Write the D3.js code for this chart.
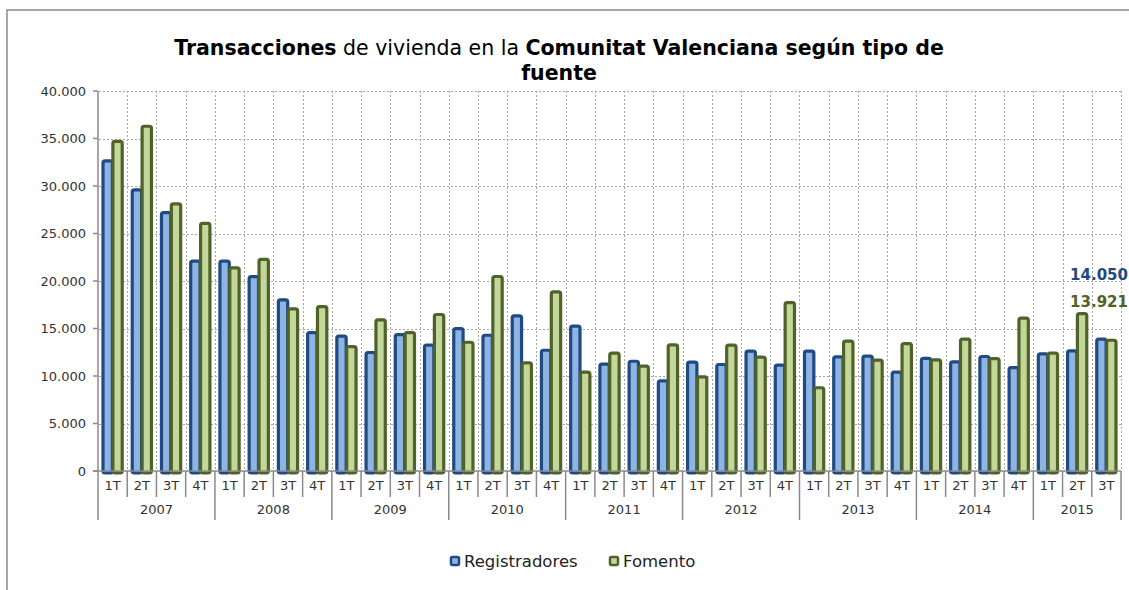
<!DOCTYPE html>
<html>
<head>
<meta charset="utf-8">
<script src="https://cdn.jsdelivr.net/npm/d3@7"></script>
<style>
  html, body { margin: 0; padding: 0; background: #fff; }
  svg { display: block; font-family: "DejaVu Sans", sans-serif; }
</style>
</head>
<body>
<div id="chart"></div>
<script>
// Transacciones de vivienda, Comunitat Valenciana: Registradores vs Fomento, por trimestre.

const years = ['2007', '2008', '2009', '2010', '2011', '2012', '2013', '2014', '2015'];
const quarters = ['1T', '2T', '3T', '4T'];
const yTicks = [0, 5000, 10000, 15000, 20000, 25000, 30000, 35000, 40000];

const registradores = [
  32800, 29750, 27350, 22250,
  22250, 20620, 18180, 14730,
  14350, 12630, 14520, 13400,
  15150, 14450, 16480, 12870,
  15400, 11400, 11710, 9650,
  11620, 11370, 12780, 11300,
  12780, 12170, 12240, 10560,
  12020, 11640, 12210, 11050,
  12490, 12800, 14050
];
const fomento = [
  34850, 36450, 28280, 26230,
  21540, 22440, 17220, 17470,
  13260, 16060, 14730, 16630,
  13710, 20630, 11540, 19010,
  10560, 12560, 11190, 13430,
  10060, 13400, 12140, 17890,
  8920, 13820, 11820, 13570,
  11850, 14030, 11990, 16240,
  12560, 16730, 13921
];

const seriesNames = ['Registradores', 'Fomento'];
const seriesValues = [registradores, fomento];
const stroke = ['#1f4a82', '#4f6228'];
const fill = ['#8db4e2', '#c4d79b'];

// categories: year + quarter
const cats = [];
years.forEach((yr) => quarters.forEach((q) => {
  if (cats.length < registradores.length) cats.push({ year: yr, q: q, key: yr + '-' + q });
}));

const W = 1129, H = 590;
const fmt = (v) => d3.format(',')(v).replace(/,/g, '.');

const svg = d3.select('#chart').append('svg').attr('width', W).attr('height', H);

// outer frame
svg.append('rect').attr('x', 7).attr('y', 10).attr('width', 1140).attr('height', 600)
  .attr('fill', 'none').attr('stroke', '#8a8a8a').attr('stroke-width', 1.5);

const x = d3.scaleBand().domain(cats.map((c) => c.key)).range([98, 1121]).padding(0);
const y = d3.scaleLinear().domain([0, 40000]).range([471, 91]);
const w = x.bandwidth();
const xs = d3.scaleBand().domain(seriesNames).range([0.12 * w, 0.88 * w]).paddingInner(-0.25);

// title
const title = svg.append('text').attr('text-anchor', 'middle').attr('font-size', 20.5).attr('fill', '#000');
const l1 = title.append('tspan').attr('x', 559).attr('y', 55);
l1.append('tspan').attr('font-weight', 'bold').text('Transacciones');
l1.append('tspan').text(' de vivienda en la ');
l1.append('tspan').attr('font-weight', 'bold').text('Comunitat Valenciana según tipo de');
title.append('tspan').attr('x', 559).attr('y', 80).attr('font-weight', 'bold').text('fuente');

// gridlines
const grid = svg.append('g').attr('stroke', '#a6a6a6').attr('stroke-width', 1).attr('stroke-dasharray', '2,2');
grid.selectAll('.hg').data(yTicks.filter((t) => t > 0)).enter().append('line')
  .attr('x1', 99).attr('x2', 1121)
  .attr('y1', (d) => Math.round(y(d)) + 0.5).attr('y2', (d) => Math.round(y(d)) + 0.5);
grid.selectAll('.vg').data(cats).enter().append('line')
  .attr('x1', (d) => Math.round(x(d.key) + w) + 0.5).attr('x2', (d) => Math.round(x(d.key) + w) + 0.5)
  .attr('y1', y(40000)).attr('y2', y(0));

// bars
seriesNames.forEach((name, si) => {
  svg.append('g').selectAll('rect').data(seriesValues[si]).enter().append('rect')
    .attr('x', (d, i) => x(cats[i].key) + xs(name) + 1.5)
    .attr('width', xs.bandwidth() - 3)
    .attr('y', (d) => y(d) + 1.5)
    .attr('height', (d) => y(0) - y(d) + 0.5)
    .attr('rx', 2)
    .attr('fill', fill[si]).attr('stroke', stroke[si]).attr('stroke-width', 3.2);
});

// axes
const axisCol = '#8a8a8a';
const ax = svg.append('g').attr('stroke', axisCol).attr('stroke-width', 1.5);
ax.append('line').attr('x1', 98).attr('x2', 98).attr('y1', y(40000)).attr('y2', y(0));
ax.append('line').attr('x1', 93).attr('x2', 1121).attr('y1', y(0)).attr('y2', y(0));
ax.selectAll('.yt').data(yTicks).enter().append('line')
  .attr('x1', 93).attr('x2', 98).attr('y1', (d) => y(d)).attr('y2', (d) => y(d));

// quarter separators and year separators
const bounds = [98].concat(cats.map((c) => x(c.key) + w));
ax.selectAll('.qs').data(bounds).enter().append('line')
  .attr('x1', (d) => d).attr('x2', (d) => d)
  .attr('y1', y(0)).attr('y2', (d, i) => (i % 4 === 0 || i === bounds.length - 1) ? 520 : 497);

// y tick labels
svg.append('g').selectAll('text').data(yTicks).enter().append('text')
  .attr('x', 86).attr('y', (d) => y(d)).attr('dy', '0.35em')
  .attr('text-anchor', 'end').attr('font-size', 13).attr('fill', '#333')
  .text((d) => fmt(d));

// quarter labels
svg.append('g').selectAll('text').data(cats).enter().append('text')
  .attr('x', (d) => x(d.key) + w / 2).attr('y', 485).attr('dy', '0.35em')
  .attr('text-anchor', 'middle').attr('font-size', 13).attr('fill', '#333')
  .text((d) => d.q);

// year labels
svg.append('g').selectAll('text').data(years).enter().append('text')
  .attr('x', (d) => {
    const ks = cats.filter((c) => c.year === d);
    return (x(ks[0].key) + x(ks[ks.length - 1].key) + w) / 2;
  })
  .attr('y', 509).attr('dy', '0.35em')
  .attr('text-anchor', 'middle').attr('font-size', 13).attr('fill', '#333')
  .text((d) => d);

// end value labels (right-aligned at the edge so they stay readable)
svg.append('text').attr('x', 1128).attr('y', 280)
  .attr('text-anchor', 'end').attr('font-size', 15).attr('font-weight', 'bold')
  .attr('fill', stroke[0]).text(fmt(registradores[registradores.length - 1]));
svg.append('text').attr('x', 1128).attr('y', 307)
  .attr('text-anchor', 'end').attr('font-size', 15).attr('font-weight', 'bold')
  .attr('fill', stroke[1]).text(fmt(fomento[fomento.length - 1]));

// legend
const legX = [450, 609];
seriesNames.forEach((name, si) => {
  svg.append('rect').attr('x', legX[si] + 1).attr('y', 557).attr('width', 8).attr('height', 8).attr('rx', 1.5)
    .attr('fill', fill[si]).attr('stroke', stroke[si]).attr('stroke-width', 2.5);
  svg.append('text').attr('x', legX[si] + 14).attr('y', 561).attr('dy', '0.35em')
    .attr('font-size', 16.5).attr('fill', '#222').text(name);
});
</script>
</body>
</html>
